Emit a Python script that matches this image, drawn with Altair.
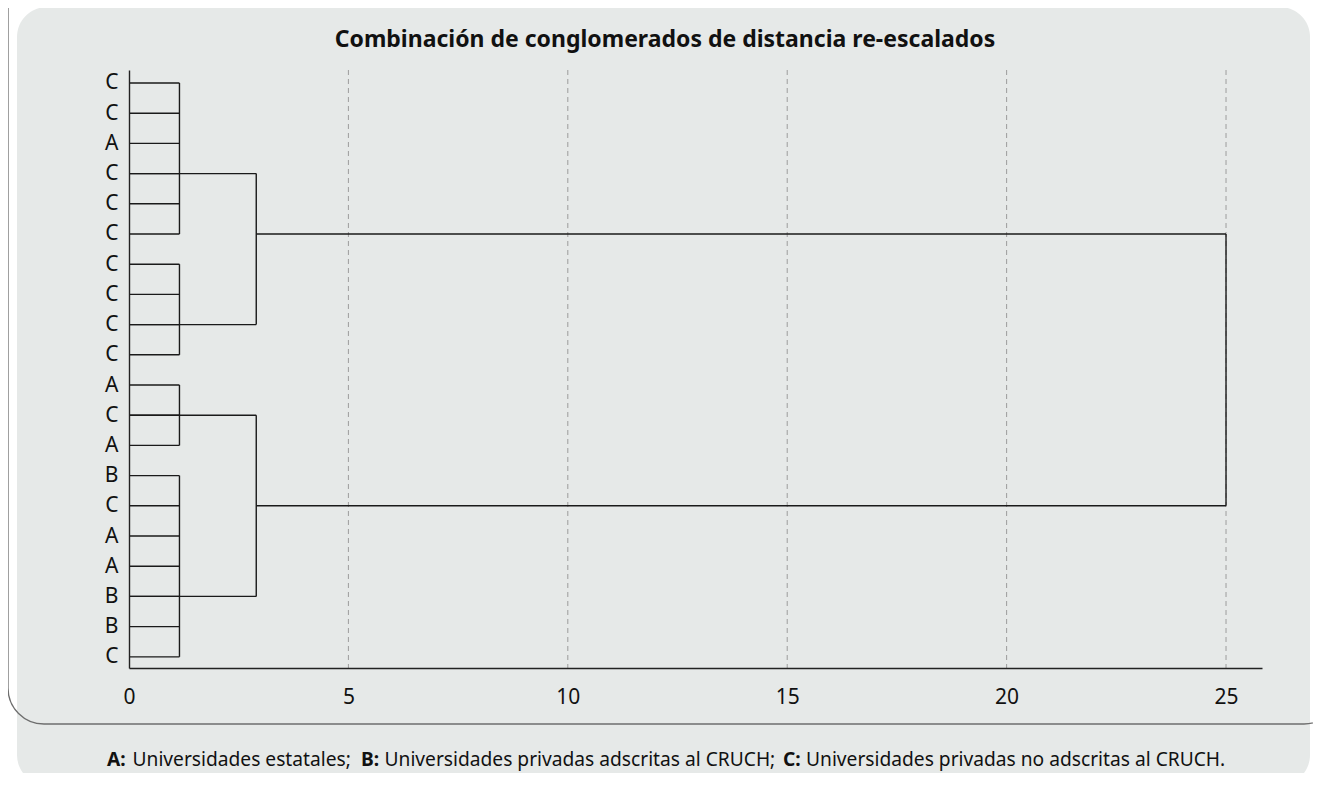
import altair as alt
import pandas as pd

# ---- data ----
leaf_labels = ["C", "C", "A", "C", "C", "C", "C", "C", "C", "C",
               "A", "C", "A", "B", "C", "A", "A", "B", "B", "C"]
# first-level clusters: first leaf, last leaf, row of the outgoing branch
group_first = [1, 7, 11, 14]
group_last = [6, 10, 13, 20]
group_row = [4, 9, 12, 18]
level1_dist = 1.15
# second-level clusters: which groups they join and the row of the outgoing branch
pair_a = [0, 2]
pair_b = [1, 3]
pair_row = [6, 15]
level2_dist = 2.9
root_dist = 25.0
x_ticks = [0, 5, 10, 15, 20, 25]
grid_values = [5, 10, 15, 20, 25]

title_text = "Combinación de conglomerados de distancia re-escalados"
note_keys = ["A:", "B:", "C:"]
note_texts = ["Universidades estatales;",
              "Universidades privadas adscritas al CRUCH;",
              "Universidades privadas no adscritas al CRUCH."]

# ---- build segment table ----
segs = []
for i in range(1, len(leaf_labels) + 1):
    segs.append((0, level1_dist, i, i))
for f, l, r in zip(group_first, group_last, group_row):
    segs.append((level1_dist, level1_dist, f, l))
    segs.append((0, level2_dist, r, r))
for a, b, r in zip(pair_a, pair_b, pair_row):
    segs.append((level2_dist, level2_dist, group_row[a], group_row[b]))
    segs.append((level2_dist, root_dist, r, r))
segs.append((root_dist, root_dist, pair_row[0], pair_row[1]))
seg_df = pd.DataFrame(segs, columns=["x", "x2", "y", "y2"])

FONT = "Noto Sans"
W, H = 1133, 598
xscale = alt.Scale(domain=[0, 25.82], nice=False, zero=False)
yscale = alt.Scale(domain=[0.57, 20.37], reverse=True, nice=False, zero=False)
label_expr = "[" + ",".join("'%s'" % s for s in leaf_labels) + "][datum.value - 1]"

x_axis = alt.Axis(values=x_ticks, ticks=False, grid=False, title=None,
                  domainColor="#222222", domainWidth=1.4, labelFont=FONT,
                  labelFontSize=21, labelColor="#111111", labelPadding=18,
                  labelFlush=False, format="d", zindex=1)
y_axis = alt.Axis(values=list(range(1, len(leaf_labels) + 1)), labelExpr=label_expr,
                  ticks=False, grid=False, title=None, domainColor="#222222",
                  domainWidth=1.4, labelFont=FONT, labelFontSize=21,
                  labelColor="#111111", labelPadding=11, zindex=1)

one = pd.DataFrame({"a": [0]})

panel = alt.Chart(one).mark_rect(fill="#e6e9e8", cornerRadius=30).encode(
    x=alt.value(-112), x2=alt.value(1181), y=alt.value(-63), y2=alt.value(715))

outline = alt.Chart(one).mark_rect(fillOpacity=0, stroke="#6e6e6e", strokeWidth=1.3,
                                   cornerRadius=36).encode(
    x=alt.value(-121), x2=alt.value(1211), y=alt.value(-120), y2=alt.value(654))

grid = alt.Chart(pd.DataFrame({"x": grid_values})).mark_rule(
    color="#9c9c9c", strokeDash=[5, 4], strokeWidth=1).encode(
    x=alt.X("x:Q", scale=xscale, axis=x_axis))

dendro = alt.Chart(seg_df).mark_rule(color="#1a1a1a", strokeWidth=1.4).encode(
    x=alt.X("x:Q", scale=xscale, axis=x_axis),
    x2="x2:Q",
    y=alt.Y("y:Q", scale=yscale, axis=y_axis),
    y2="y2:Q")

title = alt.Chart(one).mark_text(text=title_text, font=FONT, fontSize=23, fontWeight="bold",
                                 align="center", baseline="alphabetic", color="#111111").encode(
    x=alt.value(536), y=alt.value(-23))

note_layers = []
key_x = [-22, 232, 654]
text_x = [3.5, 255.5, 677]
for k, t, kx, tx in zip(note_keys, note_texts, key_x, text_x):
    note_layers.append(alt.Chart(one).mark_text(text=k, font=FONT, fontSize=19.2, fontWeight="bold",
                                                align="left", baseline="alphabetic",
                                                color="#111111").encode(
        x=alt.value(kx), y=alt.value(696)))
    note_layers.append(alt.Chart(one).mark_text(text=t, font=FONT, fontSize=19.2,
                                                align="left", baseline="alphabetic",
                                                color="#111111").encode(
        x=alt.value(tx), y=alt.value(696)))

chart = alt.layer(panel, outline, grid, dendro, title, *note_layers).properties(
    width=W, height=H,
    autosize=alt.AutoSizeParams(type="none"),
    padding={"left": 121, "top": 62, "right": 51, "bottom": 105},
    background="white",
).configure_view(stroke=None)

chart.save("out.html", embed_options={"renderer": "svg", "actions": False})
